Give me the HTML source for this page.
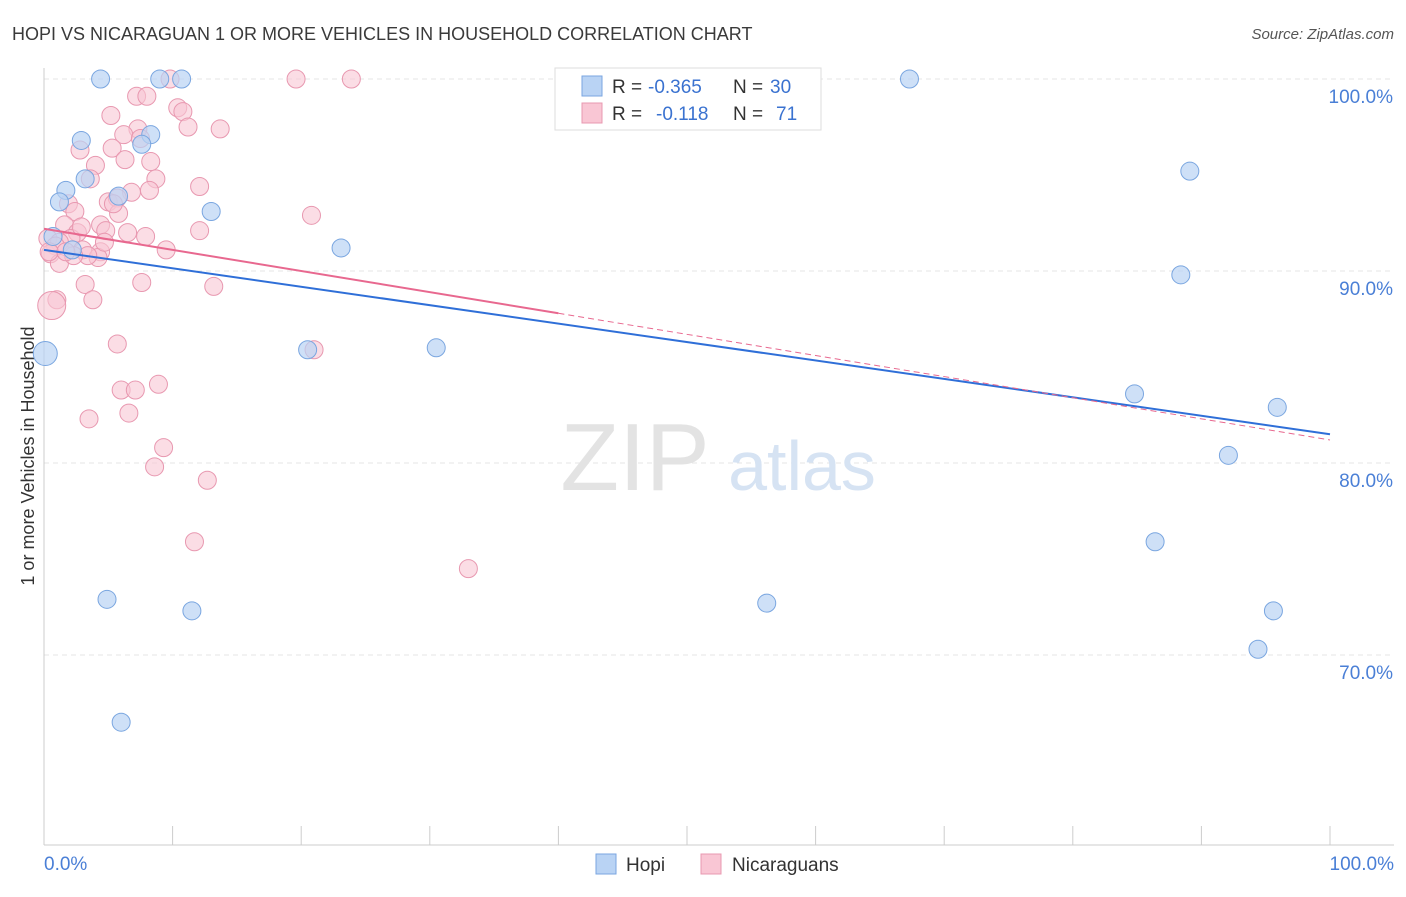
<!DOCTYPE html>
<html><head><meta charset="utf-8"><style>
body{margin:0;background:#fff;font-family:"Liberation Sans",sans-serif}
svg text{font-family:"Liberation Sans",sans-serif}
</style></head><body>
<svg id="chart" width="1406" height="892" xmlns="http://www.w3.org/2000/svg">
<text x="12" y="40" font-size="18" fill="#3a3a3a">HOPI VS NICARAGUAN 1 OR MORE VEHICLES IN HOUSEHOLD CORRELATION CHART</text>
<text x="1394" y="39" font-size="15" fill="#555" text-anchor="end" font-style="italic">Source: ZipAtlas.com</text>
<text transform="translate(34,456) rotate(-90)" font-size="18" fill="#333" text-anchor="middle">1 or more Vehicles in Household</text>
<g id="grid"></g>
<g>
<text x="635" y="490" font-size="96" fill="#e3e3e3" text-anchor="middle" font-family="Liberation Serif">ZIP</text>
<text x="802" y="490" font-size="70" fill="#d6e3f3" text-anchor="middle">atlas</text></g>
<g id="points"></g>
<g id="lines"></g>
<g>
<rect x="555" y="68" width="266" height="62" fill="#fff" stroke="#ddd"/>
<rect x="582" y="76" width="20" height="20" fill="#b9d3f4" stroke="#7aa6e0"/>
<rect x="582" y="103" width="20" height="20" fill="#f9c6d4" stroke="#e898b0"/>
<text x="612" y="93" font-size="19" fill="#333">R =</text>
<text x="648" y="93" font-size="19" fill="#3a72d0">-0.365</text>
<text x="733" y="93" font-size="19" fill="#333">N =</text>
<text x="770" y="93" font-size="19" fill="#3a72d0">30</text>
<text x="612" y="120" font-size="19" fill="#333">R =</text>
<text x="656" y="120" font-size="19" fill="#3a72d0">-0.118</text>
<text x="733" y="120" font-size="19" fill="#333">N =</text>
<text x="776" y="120" font-size="19" fill="#3a72d0">71</text>
</g>
<g>
<rect x="596" y="854" width="20" height="20" fill="#b9d3f4" stroke="#7aa6e0"/>
<text x="626" y="871" font-size="19" fill="#333">Hopi</text>
<rect x="701" y="854" width="20" height="20" fill="#f9c6d4" stroke="#e898b0"/>
<text x="732" y="871" font-size="19" fill="#333">Nicaraguans</text>
</g>
</svg>
<script>
const yTicks=[100,90,80,70];
const xTickLabels=["0.0%","100.0%"];
const hopiX=[4.4,9,10.7,67.3,2.9,8.3,7.6,3.2,1.7,1.2,5.8,13,0.7,2.2,23.1,89.1,88.4,20.5,30.5,84.8,92.1,95.9,86.4,56.2,95.6,94.4,4.9,11.5,6,0.1];
const hopiY=[100,100,100,100,96.8,97.1,96.6,94.8,94.2,93.6,93.9,93.1,91.8,91.1,91.2,95.2,89.8,85.9,86,83.6,80.4,82.9,75.9,72.7,72.3,70.3,72.9,72.3,66.5,85.7];
const nicX=[9.8,19.6,23.9,7.2,8,10.4,10.8,5.2,11.2,13.7,7.3,6.2,7.5,2.8,5.3,4,6.3,8.3,3.6,8.7,6.8,8.2,12.1,5,5.7,1.9,2.4,5.8,20.8,1.6,4.4,12.1,4.8,6.5,7.9,2.6,2.1,0.3,1.2,0.9,3.0,4.4,0.5,1.2,4.2,3.4,9.5,2.3,7.6,13.2,3.2,1,3.8,0.6,5.7,21,8.9,6,7.1,6.6,3.5,9.3,8.6,12.7,11.7,33,0.4,1.7,5.4,4.7,2.9];
const nicY=[100,100,100,99.1,99.1,98.5,98.3,98.1,97.5,97.4,97.4,97.1,96.9,96.3,96.4,95.5,95.8,95.7,94.8,94.8,94.1,94.2,94.4,93.6,93.8,93.5,93.1,93,92.9,92.4,92.4,92.1,92.1,92,91.8,92,91.7,91.7,91.5,91.3,91.1,91,90.9,90.4,90.7,90.8,91.1,90.8,89.4,89.2,89.3,88.5,88.5,88.2,86.2,85.9,84.1,83.8,83.8,82.6,82.3,80.8,79.8,79.1,75.9,74.5,91,91,93.5,91.5,92.3];
const hopiTrend=[91.1,81.5];
const nicTrend=[92.2,81.2];
const ns="http://www.w3.org/2000/svg";
const X=v=>44+v*12.86, Y=v=>79+(100-v)*19.2;
function mk(tag,at,parent){const e=document.createElementNS(ns,tag);for(const k in at)e.setAttribute(k,at[k]);parent.appendChild(e);return e;}
const grid=document.getElementById('grid');
yTicks.forEach(t=>{
 const l=mk('line',{x1:44,x2:1394,y1:Y(t),y2:Y(t),stroke:'#e6e6e6','stroke-dasharray':'5,4'},grid);
 
 
 const tx=mk('text',{x:1393,y:Y(t)+24,'font-size':19,fill:'#4a7fd6','text-anchor':'end'},grid);
 tx.textContent=t.toFixed(1)+'%';
 
 
});
const ax=mk('line',{x1:44,x2:44,y1:68,y2:845,stroke:'#ccc'},grid);


const bx=mk('line',{x1:44,x2:1394,y1:845,y2:845,stroke:'#ccc'},grid);


for(let i=0;i<=10;i++){const t=mk('line',{x1:X(i*10),x2:X(i*10),y1:826,y2:845,stroke:'#ccc'},grid);
 
 }
[[0,'start',44],[1,'end',1394]].forEach(([i,a,x])=>{const t=mk('text',{x:x,y:870,'font-size':19,fill:'#4a7fd6','text-anchor':a},grid);t.textContent=xTickLabels[i];
 
 });
const pts=document.getElementById('points');
nicX.forEach((x,i)=>{const r=(i==53)?14:9;const c=mk('circle',{cx:X(x),cy:Y(nicY[i]),r:r,fill:'#f9c6d4','fill-opacity':0.6,stroke:'#e898b0'},pts);
 
 });
hopiX.forEach((x,i)=>{const r=(i==29)?12:9;const c=mk('circle',{cx:X(x),cy:Y(hopiY[i]),r:r,fill:'#b9d3f4','fill-opacity':0.7,stroke:'#7aa6e0'},pts);
 
 });
const lines=document.getElementById('lines');
const lerp=(t,x)=>t[0]+(t[1]-t[0])*x/100;
const hl=mk('line',{x1:X(0),y1:Y(lerp(hopiTrend,0)),x2:X(100),y2:Y(lerp(hopiTrend,100)),stroke:'#2f6fd8','stroke-width':2},lines);


const nl=mk('line',{x1:X(0),y1:Y(lerp(nicTrend,0)),x2:X(40),y2:Y(lerp(nicTrend,40)),stroke:'#e8688f','stroke-width':2},lines);


const nd=mk('line',{x1:X(40),y1:Y(lerp(nicTrend,40)),x2:X(100),y2:Y(lerp(nicTrend,100)),stroke:'#e8688f','stroke-width':1,'stroke-dasharray':'6,4'},lines);


</script>
</body></html>
